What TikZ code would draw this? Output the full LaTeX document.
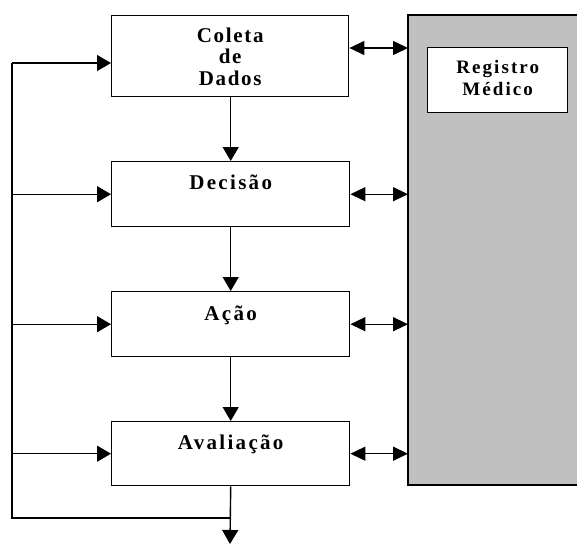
\documentclass[tikz,border=0pt]{standalone}
\usepackage{fontspec}
\usetikzlibrary{arrows.meta}
\newfontfamily\stagefont[LetterSpace=11]{Liberation Serif Bold}
\newfontfamily\stagefontnarrow[LetterSpace=8]{Liberation Serif Bold}
\definecolor{archivegray}{RGB}{192,192,192}
\tikzset{
  x=1pt, y=-1pt,
  flow/.style={line width=1.4pt, draw=black},
  tip/.style={-{Triangle[length=14pt,width=16pt]}},
  bothtips/.style={{Triangle[length=15pt,width=14pt]}-{Triangle[length=15pt,width=14pt]}},
  stagebox/.style={draw=black, line width=1.4pt, fill=white, anchor=north west,
    minimum width=238pt, inner sep=0pt, align=center,
    font=\stagefont\fontsize{21}{24}\selectfont},
  stagetext/.style={inner sep=0pt, align=center, anchor=base,
    font=\stagefontnarrow\fontsize{21}{24}\selectfont},
  archive/.style={draw=black, line width=1.4pt, fill=archivegray, inner sep=0pt}
}
\begin{document}
\begin{tikzpicture}
\useasboundingbox (0,0) rectangle (577,544);

% shared medical record, running off the right edge
\begin{scope}
\clip (0,0) rectangle (577,544);
\draw[archive] (408,15) rectangle (640,485);
\end{scope}
\node[stagebox, minimum width=140pt, minimum height=65pt] (registro) at (427,47) {};
\node[stagetext, font=\stagefont\fontsize{19}{22}\selectfont]
      (registrotxt1) at ([yshift=-26pt]registro.north) {Registro};
\node[stagetext, font=\stagefont\fontsize{19}{22}\selectfont]
      (registrotxt2) at ([yshift=-48pt]registro.north) {Médico};

% care stages
\node[stagebox, minimum width=237pt, minimum height=81pt] (coleta) at (111,15) {};
\node[stagetext] (coletatxt1) at ([yshift=-27pt]coleta.north) {Coleta};
\node[stagetext] (coletatxt2) at ([yshift=-48.5pt]coleta.north) {de};
\node[stagetext] (coletatxt3) at ([yshift=-70pt]coleta.north) {Dados};
\node[stagebox, minimum height=65pt, text height=28pt, text depth=37pt]
      (decisao) at (111,161) {Decisão};
\node[stagebox, minimum height=65pt, text height=29pt, text depth=36pt]
      (acao) at (111,291) {Ação};
\node[stagebox, minimum height=64pt, text height=28pt, text depth=36pt]
      (avaliacao) at (111,421) {Avaliação};

% main sequence
\draw[flow, tip] (coleta.south -| decisao.north) -- (decisao.north);
\draw[flow, tip] (decisao.south) -- (acao.north);
\draw[flow, tip] (acao.south) -- (avaliacao.north);
\coordinate (out) at (230,544);
\draw[flow, tip] (avaliacao.south) -- (out);

% feedback loop
\coordinate (fbtop) at (12,63);
\coordinate (fbbottom) at (12,518);
\draw[flow] (avaliacao.south |- fbbottom) -- (fbbottom) -- (fbtop);
\draw[flow, tip] (fbtop) -- (fbtop -| coleta.west);
\draw[flow, tip] (fbtop |- decisao.west) -- (decisao.west);
\draw[flow, tip] (fbtop |- acao.west) -- (acao.west);
\draw[flow, tip] (fbtop |- avaliacao.west) -- (avaliacao.west);

% exchange with the record
\coordinate (rectop) at (408,48);
\draw[flow, bothtips] (rectop -| coleta.east) -- (rectop);
\draw[flow, bothtips] (decisao.east) -- (decisao.east -| rectop);
\draw[flow, bothtips] (acao.east) -- (acao.east -| rectop);
\draw[flow, bothtips] (avaliacao.east) -- (avaliacao.east -| rectop);
\end{tikzpicture}
\end{document}
